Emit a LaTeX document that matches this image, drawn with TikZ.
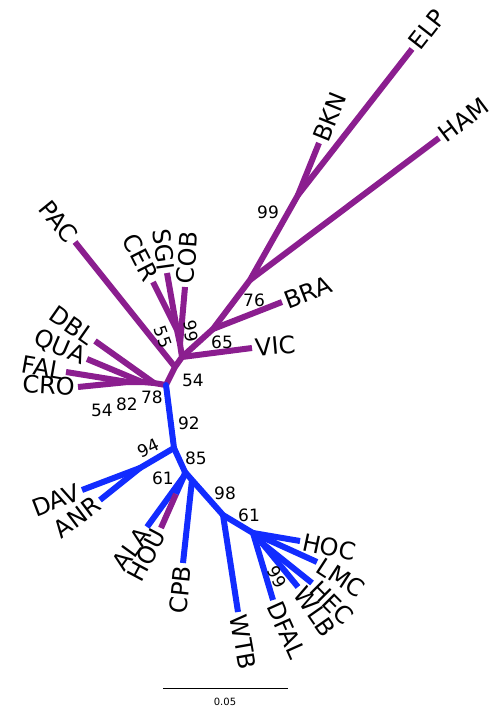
\documentclass[tikz,border=0pt]{standalone}
\usepackage{fontspec}
\setmainfont{DejaVu Sans}
\definecolor{purp}{RGB}{139,30,143}
\definecolor{blu}{RGB}{18,44,255}
\tikzset{
  br/.style={line width=6pt, line cap=round, line join=round},
  lf/.style={line width=6pt, line cap=butt},
  tiplab/.style={font=\fontsize{24}{24}\selectfont, inner sep=3pt},
  bsv/.style={font=\fontsize{17}{17}\selectfont, inner sep=0pt},
}
\begin{document}
\begin{tikzpicture}[x=1pt,y=-1pt]
\useasboundingbox (0,0) rectangle (493,711);
% ---- internal nodes
\coordinate (R) at (166,385);
\coordinate (n78) at (154,383);
\coordinate (n82) at (142,382);
\coordinate (n54L) at (128,382);
\coordinate (A) at (175,367);
\coordinate (B) at (182,357);
\coordinate (C) at (180,344);
\coordinate (D) at (177,330);
\coordinate (F) at (213,329);
\coordinate (G) at (250,280);
\coordinate (H) at (298,195);
\coordinate (N92) at (174,448);
\coordinate (N94) at (140,468);
\coordinate (N85) at (185,472);
\coordinate (n61a) at (184,476);
\coordinate (HOUm) at (176,494);
\coordinate (CPBa) at (192,480);
\coordinate (N98) at (223,515);
\coordinate (N61b) at (253,533);
\coordinate (N99) at (262,543);
% ---- tips
\coordinate (CRO) at (78,387);
\coordinate (FAL) at (66,372);
\coordinate (QUA) at (87,359);
\coordinate (DBL) at (95,341);
\coordinate (PAC) at (75,242);
\coordinate (CER) at (153,282);
\coordinate (SGI) at (167,273);
\coordinate (COB) at (185,287);
\coordinate (VIC) at (252,348);
\coordinate (BRA) at (282,302);
\coordinate (HAM) at (439,138);
\coordinate (BKN) at (319,143);
\coordinate (ELP) at (412,49);
\coordinate (DAV) at (82,490);
\coordinate (ANR) at (100,500);
\coordinate (ALA) at (147,527);
\coordinate (HOU) at (161,528);
\coordinate (CPB) at (183,563);
\coordinate (WTB) at (238,612);
\coordinate (DFAL) at (273,600);
\coordinate (HOC) at (300,541);
\coordinate (LMC) at (317,562);
\coordinate (HEC) at (312,583);
\coordinate (WLB) at (298,587);
% ---- purple internal branches
\draw[br,purp] (R) -- (n78) -- (n82) -- (n54L);
\draw[br,purp] (R) -- (A) -- (B) -- (C) -- (D);
\draw[br,purp] (B) -- (F) -- (G) -- (H);
% ---- purple leaves
\draw[lf,purp] (n54L) -- (CRO);
\draw[lf,purp] (n54L) -- (FAL);
\draw[lf,purp] (n82) -- (QUA);
\draw[lf,purp] (n78) -- (DBL);
\draw[lf,purp] (A) -- (PAC);
\draw[lf,purp] (D) -- (CER);
\draw[lf,purp] (D) -- (SGI);
\draw[lf,purp] (C) -- (COB);
\draw[lf,purp] (B) -- (VIC);
\draw[lf,purp] (F) -- (BRA);
\draw[lf,purp] (G) -- (HAM);
\draw[lf,purp] (H) -- (BKN);
\draw[lf,purp] (H) -- (ELP);
% ---- blue internal branches
\draw[br,blu] (R) -- (N92) -- (N85) -- (CPBa) -- (N98) -- (N61b) -- (N99);
\draw[br,blu] (N92) -- (N94);
\draw[br,blu] (N85) -- (n61a);
% ---- blue leaves
\draw[lf,blu] (N94) -- (DAV);
\draw[lf,blu] (N94) -- (ANR);
\draw[lf,blu] (n61a) -- (ALA);
\draw[lf,blu] (n61a) -- (HOUm);
\draw[lf,purp] (HOUm) -- (HOU);
\draw[lf,blu] (CPBa) -- (CPB);
\draw[lf,blu] (N98) -- (WTB);
\draw[lf,blu] (N61b) -- (DFAL);
\draw[lf,blu] (N61b) -- (HOC);
\draw[lf,blu] (N61b) -- (LMC);
\draw[lf,blu] (N99) -- (HEC);
\draw[lf,blu] (N99) -- (WLB);
% ---- leaf labels
\node[tiplab, rotate=-3, anchor=east] (CROl) at (CRO) {CRO};
\node[tiplab, rotate=-10, anchor=east] (FALl) at (FAL) {FAL};
\node[tiplab, rotate=-23, anchor=east] (QUAl) at (QUA) {QUA};
\node[tiplab, rotate=-35, anchor=east] (DBLl) at (DBL) {DBL};
\node[tiplab, rotate=-51, anchor=east] (PACl) at (PAC) {PAC};
\node[tiplab, rotate=-63, anchor=east] (CERl) at (CER) {CER};
\node[tiplab, rotate=-82, anchor=east] (SGIl) at (SGI) {SGI};
\node[tiplab, rotate=86, anchor=west] (COBl) at (COB) {COB};
\node[tiplab, rotate=5, anchor=west] (VICl) at (VIC) {VIC};
\node[tiplab, rotate=21, anchor=west] (BRAl) at (BRA) {BRA};
\node[tiplab, rotate=37, anchor=west] (HAMl) at (HAM) {HAM};
\node[tiplab, rotate=68, anchor=west] (BKNl) at (BKN) {BKN};
\node[tiplab, rotate=52, anchor=west] (ELPl) at (ELP) {ELP};
\node[tiplab, rotate=21, anchor=east] (DAVl) at (DAV) {DAV};
\node[tiplab, rotate=37, anchor=east] (ANRl) at (ANR) {ANR};
\node[tiplab, rotate=54, anchor=east] (ALAl) at (ALA) {ALA};
\node[tiplab, rotate=62, anchor=east] (HOUl) at (HOU) {HOU};
\node[tiplab, rotate=84, anchor=east] (CPBl) at (CPB) {CPB};
\node[tiplab, rotate=-80, anchor=west] (WTBl) at (WTB) {WTB};
\node[tiplab, rotate=-66, anchor=west] (DFALl) at (DFAL) {DFAL};
\node[tiplab, rotate=-12, anchor=west] (HOCl) at (HOC) {HOC};
\node[tiplab, rotate=-33, anchor=west] (LMCl) at (LMC) {LMC};
\node[tiplab, rotate=-45, anchor=west] (HECl) at (HEC) {HEC};
\node[tiplab, rotate=-55, anchor=west] (WLBl) at (WLB) {WLB};
% ---- support values
\node[bsv] (s54a) at (102,410) {54};
\node[bsv] (s82) at (127,404) {82};
\node[bsv] (s78) at (152,397) {78};
\node[bsv] (s54b) at (193,380) {54};
\node[bsv, rotate=-70] (s55) at (163,337) {55};
\node[bsv, rotate=-80] (s99c) at (191,331) {99};
\node[bsv] (s65) at (222,342) {65};
\node[bsv] (s76) at (254,300) {76};
\node[bsv] (s99b) at (268,212) {99};
\node[bsv] (s92) at (189,423) {92};
\node[bsv, rotate=25] (s94) at (148,448) {94};
\node[bsv] (s85) at (196,458) {85};
\node[bsv] (s61a) at (163,478) {61};
\node[bsv] (s98) at (225,493) {98};
\node[bsv] (s61b) at (249,515) {61};
\node[bsv, rotate=-60] (s99d) at (277,577) {99};
% ---- scale bar
\coordinate (sb1) at (163,688);
\coordinate (sb2) at (288,688);
\draw[line width=1pt] (sb1) -- (sb2);
\node[font=\fontsize{10}{10}\selectfont, inner sep=0pt] (sbl) at (225,702) {0.05};
\end{tikzpicture}
\end{document}
